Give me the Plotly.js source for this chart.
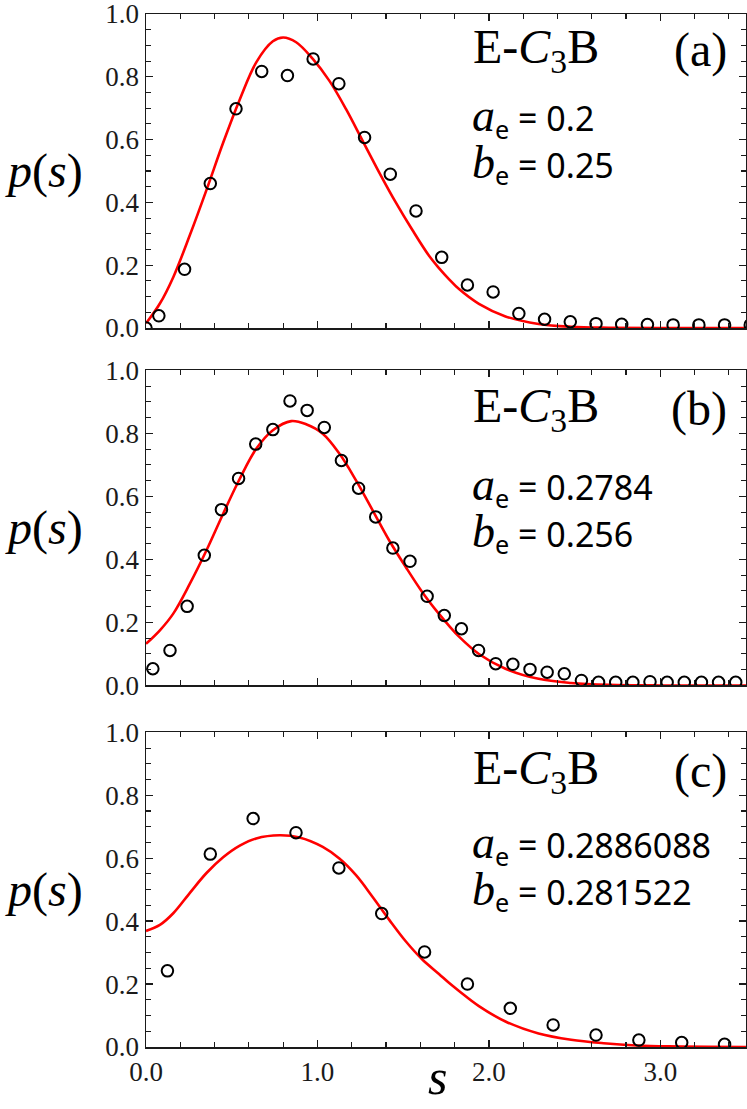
<!DOCTYPE html>
<html>
<head>
<meta charset="utf-8">
<script src="https://cdn.plot.ly/plotly-3.0.1.min.js"></script>
<style>html,body{margin:0;padding:0;background:#fff;}</style>
</head>
<body>
<div id="chart" style="width:747px;height:1109px;"></div>
<script>
// ---------- data ----------
// Panel (a): histogram points
const sA = [0.0, 0.075, 0.225, 0.375, 0.525, 0.675, 0.825, 0.975, 1.125, 1.275, 1.425, 1.575, 1.725,
            1.875, 2.025, 2.175, 2.325, 2.475, 2.625, 2.775, 2.925, 3.075, 3.225, 3.375, 3.525];
const pA = [0.0, 0.039, 0.187, 0.46, 0.698, 0.817, 0.804, 0.857, 0.778, 0.607, 0.49, 0.373, 0.225,
            0.137, 0.115, 0.046, 0.028, 0.02, 0.014, 0.012, 0.011, 0.01, 0.01, 0.01, 0.01];
// Panel (a): fitted curve
const curveA_s = [0, 0.081, 0.159, 0.256, 0.353, 0.45, 0.547, 0.643, 0.74, 0.80, 0.876, 0.973, 1.07, 1.167,
                  1.263, 1.36, 1.457, 1.554, 1.651, 1.709, 1.767, 1.826, 1.942, 2.097, 2.29, 2.48, 2.7, 3.0, 3.5];
const curveA_p = [0.015, 0.078, 0.162, 0.296, 0.44, 0.59, 0.728, 0.846, 0.913, 0.925, 0.91, 0.857, 0.787, 0.697,
                  0.597, 0.496, 0.4, 0.312, 0.23, 0.191, 0.156, 0.124, 0.077, 0.037, 0.013, 0.004, 0.001, 0.0, 0.0];

// Panel (b): histogram points
const sB = [0.04, 0.14, 0.24, 0.34, 0.44, 0.54, 0.64, 0.74, 0.84, 0.94, 1.04, 1.14, 1.24, 1.34, 1.44, 1.54, 1.64, 1.74,
            1.84, 1.94, 2.04, 2.14, 2.24, 2.34, 2.44, 2.54, 2.64, 2.74, 2.84, 2.94, 3.04, 3.14, 3.24, 3.34, 3.44];
const pB = [0.053, 0.111, 0.251, 0.413, 0.558, 0.657, 0.766, 0.812, 0.903, 0.873, 0.819, 0.714, 0.626, 0.535, 0.436, 0.394, 0.283, 0.222,
            0.18, 0.111, 0.069, 0.067, 0.051, 0.042, 0.037, 0.016, 0.01, 0.01, 0.01, 0.012, 0.01, 0.01, 0.01, 0.01, 0.01];
// Panel (b): fitted curve
const curveB_s = [0, 0.081, 0.159, 0.256, 0.353, 0.45, 0.547, 0.643, 0.74, 0.847, 0.934, 1.031, 1.128, 1.225,
                  1.322, 1.419, 1.515, 1.612, 1.709, 1.767, 1.826, 1.942, 2.097, 2.29, 2.48, 2.7, 3.0, 3.5];
const curveB_p = [0.132, 0.175, 0.228, 0.323, 0.429, 0.545, 0.656, 0.751, 0.81, 0.839, 0.829, 0.799, 0.736, 0.651,
                  0.556, 0.46, 0.376, 0.296, 0.227, 0.19, 0.155, 0.1, 0.053, 0.021, 0.008, 0.002, 0.0, 0.0];

// Panel (c): histogram points
const sC = [0.125, 0.375, 0.625, 0.875, 1.125, 1.375, 1.625, 1.875, 2.125, 2.375, 2.625, 2.875, 3.125, 3.375];
const pC = [0.242, 0.613, 0.726, 0.681, 0.569, 0.424, 0.302, 0.2, 0.123, 0.07, 0.038, 0.022, 0.014, 0.0085];
// Panel (c): fitted curve
const curveC_s = [0, 0.081, 0.159, 0.256, 0.353, 0.45, 0.547, 0.643, 0.779, 0.895, 1.031, 1.128, 1.225, 1.322,
                  1.419, 1.515, 1.612, 1.709, 1.767, 1.826, 1.942, 2.097, 2.29, 2.48, 2.67, 2.86, 3.05, 3.5];
const curveC_p = [0.369, 0.388, 0.425, 0.49, 0.553, 0.603, 0.64, 0.663, 0.673, 0.666, 0.636, 0.599, 0.546, 0.477,
                  0.404, 0.336, 0.278, 0.232, 0.204, 0.178, 0.13, 0.081, 0.043, 0.023, 0.012, 0.005, 0.002, 0.0];

// Tick labels and panel texts
const xTickVals = [0, 1, 2, 3];
const xTickText = ["0.0", "1.0", "2.0", "3.0"];
const yTickVals = [0, 0.2, 0.4, 0.6, 0.8, 1.0];
const yTickText = ["0.0", "0.2", "0.4", "0.6", "0.8", "1.0"];
const panelLabels = ["(a)", "(b)", "(c)"];
const aValues = ["0.2", "0.2784", "0.2886088"];
const bValues = ["0.25", "0.256", "0.281522"];
const modelName = "E-<i>C</i><sub>3</sub>B";

// ---------- styling ----------
const serif = "Liberation Serif";
const sans = "Noto Sans";
const ink = "#1a1a1a";

function pointsTrace(s, p, ax) {
  return {
    x: s, y: p, xaxis: "x" + ax, yaxis: "y" + ax,
    type: "scatter", mode: "markers", showlegend: false,
    marker: {symbol: "circle-open", size: 11.5, color: "#000", line: {width: 2, color: "#000"}},
    hoverinfo: "x+y"
  };
}
function curveTrace(s, p, ax) {
  return {
    x: s, y: p, xaxis: "x" + ax, yaxis: "y" + ax,
    type: "scatter", mode: "lines", showlegend: false,
    line: {color: "#ff0000", width: 2.6, shape: "spline", smoothing: 1.0},
    hoverinfo: "x+y"
  };
}

const traces = [
  curveTrace(curveA_s, curveA_p, ""), pointsTrace(sA, pA, ""),
  curveTrace(curveB_s, curveB_p, "2"), pointsTrace(sB, pB, "2"),
  curveTrace(curveC_s, curveC_p, "3"), pointsTrace(sC, pC, "3")
];

function xAxis(anchor, showLabels) {
  return {
    anchor: anchor, domain: [0, 1], range: [0, 3.5],
    showline: true, linecolor: ink, linewidth: 1.5, mirror: "ticks",
    ticks: "inside", ticklen: 7, tickwidth: 1.3, tickcolor: ink,
    tickmode: "array", tickvals: xTickVals, ticktext: xTickText,
    showticklabels: showLabels, ticklabeloverflow: "allow",
    tickfont: {family: serif, size: 27, color: ink},
    minor: {ticks: "inside", ticklen: 5, tickwidth: 1.1, tickcolor: ink, tickmode: "linear", tick0: 0, dtick: 0.2},
    showgrid: false, zeroline: false, fixedrange: true
  };
}
function yAxis(anchor, domain) {
  return {
    anchor: anchor, domain: domain, range: [0, 1],
    showline: true, linecolor: ink, linewidth: 1.5, mirror: "ticks",
    ticks: "inside", ticklen: 7, tickwidth: 1.3, tickcolor: ink,
    tickmode: "array", tickvals: yTickVals, ticktext: yTickText,
    ticklabeloverflow: "allow",
    tickfont: {family: serif, size: 27, color: ink},
    minor: {ticks: "inside", ticklen: 5, tickwidth: 1.1, tickcolor: ink, tickmode: "linear", tick0: 0, dtick: 0.05},
    showgrid: false, zeroline: false, fixedrange: true
  };
}

// annotation positions (axis-domain coordinates) for each panel
const axesIds = ["", "2", "3"];
const titleY = [0.885, 0.876, 0.876];
const paramY = [0.596, 0.556, 0.57];

function paramLine(ch, val) {
  return "<span style='font-family:Liberation Serif;font-size:46px'><i>" + ch + "</i></span>" +
         "<sub>e</sub><span style='font-size:34px'> = " + val + "</span>";
}

const annotations = [];
axesIds.forEach((id, i) => {
  const xr = "x" + id + " domain", yr = "y" + id + " domain";
  annotations.push({xref: xr, yref: yr, x: 0.541, y: titleY[i], xanchor: "left", yanchor: "middle",
    text: modelName, showarrow: false, font: {family: serif, size: 48, color: "#000"}});
  annotations.push({xref: xr, yref: yr, x: 0.972, y: titleY[i], xanchor: "right", yanchor: "middle",
    text: panelLabels[i], showarrow: false, font: {family: serif, size: 48, color: "#000"}});
  annotations.push({xref: xr, yref: yr, x: 0.54, y: paramY[i], xanchor: "left", yanchor: "middle", align: "left",
    text: paramLine("a", aValues[i]) + "<br>" + paramLine("b", bValues[i]),
    showarrow: false, font: {family: sans, size: 36, color: "#000"}});
  // y-axis label p(s), horizontal
  annotations.push({xref: "paper", yref: yr, x: -0.17, y: 0.5, xanchor: "center", yanchor: "middle",
    text: "<i>p</i>(<i>s</i>)", showarrow: false, font: {family: serif, size: 48, color: "#000"}});
});
// x-axis label s
annotations.push({xref: "paper", yref: "paper", x: 0.485, y: -0.029, xanchor: "center", yanchor: "middle",
  text: "<i>s</i>", showarrow: false, font: {family: serif, size: 50, color: "#000"}});

const layout = {
  width: 747, height: 1109,
  margin: {l: 146, r: 1, t: 14, b: 62, pad: 0},
  paper_bgcolor: "#fff", plot_bgcolor: "#fff",
  showlegend: false,
  xaxis: xAxis("y", false),
  yaxis: yAxis("x", [0.696, 1.0]),
  xaxis2: xAxis("y2", false),
  yaxis2: yAxis("x2", [0.350, 0.655]),
  xaxis3: xAxis("y3", true),
  yaxis3: yAxis("x3", [0.0, 0.3046]),
  annotations: annotations
};

Plotly.newPlot("chart", traces, layout, {displayModeBar: false, staticPlot: true});
</script>
</body>
</html>
